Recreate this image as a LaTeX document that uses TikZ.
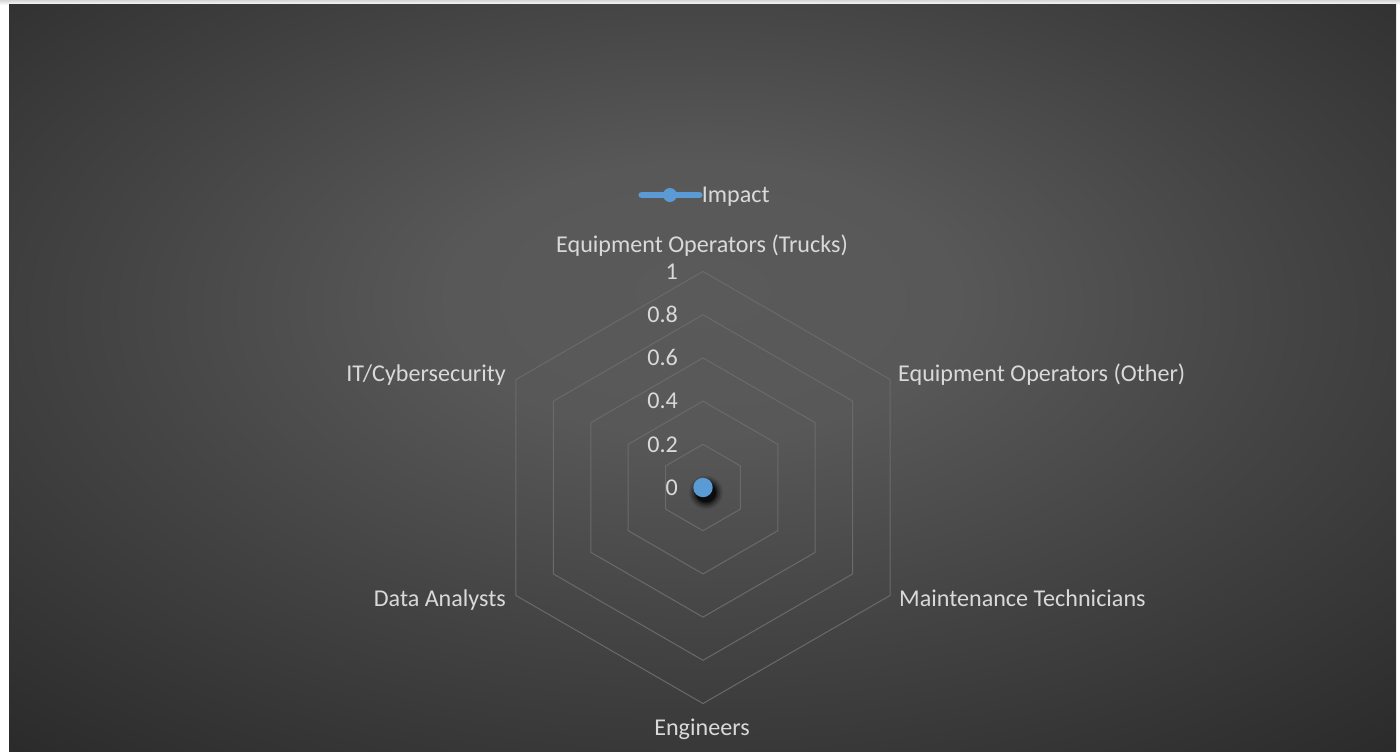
\documentclass[tikz,border=0pt]{standalone}
\usepackage{fontspec}
\setmainfont{Carlito}
\usetikzlibrary{calc}

\definecolor{bgcenter}{HTML}{5A5A5A}
\definecolor{bgmid}{HTML}{434343}
\definecolor{bgedge}{HTML}{272727}
\definecolor{gridgray}{HTML}{6A6A6A}
\definecolor{labelgray}{HTML}{D9D9D9}
\definecolor{seriesblue}{HTML}{5B9BD5}

\pgfdeclareradialshading{chartbg}{\pgfpoint{0bp}{6bp}}{%
  color(0bp)=(bgcenter); color(9bp)=(bgcenter!92!bgmid);
  color(22bp)=(bgmid); color(40bp)=(bgedge); color(80bp)=(bgedge)}

\tikzset{
  catlabel/.style={inner sep=0pt, text=labelgray, font=\fontsize{24.1}{28}\selectfont},
  vallabel/.style={inner sep=0pt, text=labelgray, font=\fontsize{24.1}{28}\selectfont, anchor=east},
  gridring/.style={draw=gridgray, line width=1pt, line join=miter},
  seriesline/.style={draw=seriesblue, line width=6.5pt, line cap=round},
  seriesmark/.style={fill=seriesblue, draw=none}
}

\begin{document}
\begin{tikzpicture}[x=1pt, y=-1pt]
  % page and chart area
  \useasboundingbox (0,0) rectangle (1400,752);
  \fill[white] (0,0) rectangle (1400,752);
  \shade[top color=black!16, bottom color=white] (0,0) rectangle (1400,5);
  \shade[shading=chartbg] (9,5) rectangle (1396,752);

  % radar grid: five hexagonal rings, 0.2 apart
  \coordinate (c) at (703,487.5);
  \foreach \r/\n in {43.2/1, 86.4/2, 129.6/3, 172.8/4, 216/5} {
    \foreach \k in {0,...,5} {
      \coordinate (r\n v\k) at ($(c)+({-90+60*\k}:\r)$);
    }
    \draw[gridring] (r\n v0) -- (r\n v1) -- (r\n v2) -- (r\n v3) -- (r\n v4) -- (r\n v5) -- cycle;
  }

  % value axis labels
  \node[vallabel] (v0)  at (678,487.5) {0};
  \node[vallabel] (v02) at (678,444.3) {0.2};
  \node[vallabel] (v04) at (678,401.1) {0.4};
  \node[vallabel] (v06) at (678,357.9) {0.6};
  \node[vallabel] (v08) at (678,314.7) {0.8};
  \node[vallabel] (v1)  at (678,271.5) {1};

  % category labels
  \node[catlabel, anchor=base]      (trucks) at (702,252.7) {Equipment Operators (Trucks)};
  \node[catlabel, anchor=base west] (other)  at (898,381.7) {Equipment Operators (Other)};
  \node[catlabel, anchor=base west] (maint)  at (899,606.7) {Maintenance Technicians};
  \node[catlabel, anchor=base]      (eng)    at (702,735) {Engineers};
  \node[catlabel, anchor=base east] (data)   at (506,606.7) {Data Analysts};
  \node[catlabel, anchor=base east] (it)     at (506,381.7) {IT/Cybersecurity};

  % data point (all values are 0) with soft shadow
  \foreach \rr/\op in {17/0.08, 15.5/0.12, 14/0.18, 12.5/0.25, 11/0.35, 10/0.5} {
    \fill[black, opacity=\op] ($(c)+(3,5)$) circle (\rr);
  }
  \fill[seriesmark] (c) circle (9.7);

  % legend
  \coordinate (legA) at (641.7,195);
  \coordinate (legB) at (699.3,195);
  \draw[seriesline] (legA) -- (legB);
  \fill[seriesmark] ($(legA)!0.49!(legB)$) circle (7);
  \node[catlabel, anchor=base west] (legtext) at (701.7,202.3) {Impact};
\end{tikzpicture}
\end{document}
